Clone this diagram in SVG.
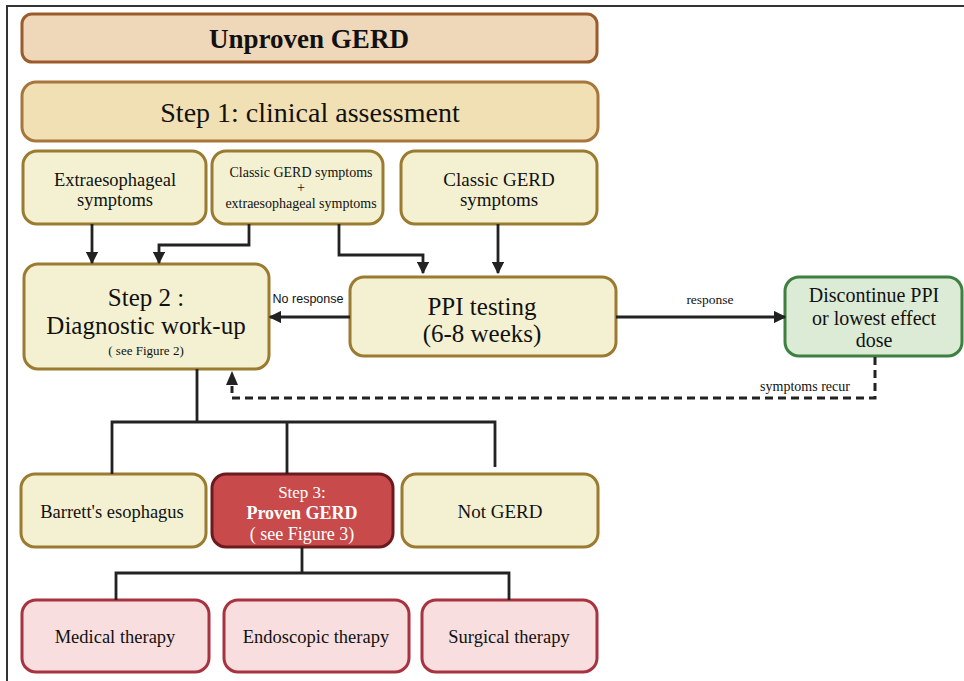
<svg xmlns="http://www.w3.org/2000/svg" width="964" height="681" viewBox="0 0 964 681">
<defs>
<style>
.t{font-family:"Liberation Serif","Times New Roman",serif;fill:#111;text-anchor:middle}
.s{font-family:"Liberation Sans",Arial,sans-serif;fill:#111;text-anchor:middle}
.box{stroke-width:3}
.cream{fill:#f4f1d2;stroke:#9a7b30}
.pink{fill:#f8dede;stroke:#a73340}
.ln{fill:none;stroke:#222;stroke-width:2.8}
.dash{fill:none;stroke:#222;stroke-width:3;stroke-dasharray:8 5}
</style>
<marker id="ah" viewBox="0 0 10 10" refX="9" refY="5" markerWidth="4.5" markerHeight="4.5" orient="auto" markerUnits="strokeWidth">
<path d="M0,0 L10,5 L0,10 z" fill="#222"/>
</marker>
</defs>
<rect width="964" height="681" fill="#fff"/>
<path d="M7,681 V6 H964" fill="none" stroke="#333" stroke-width="2"/>

<g id="unproven">
<rect class="box" x="22" y="14" width="575" height="48" rx="10" fill="#efd7b9" stroke="#9c5b2a"/>
<text class="t" x="309" y="48" font-size="27" font-weight="bold">Unproven GERD</text>
</g>
<g id="step1">
<rect class="box" x="22" y="82" width="576" height="59" rx="14" fill="#f1e0b3" stroke="#a8763a"/>
<text class="t" x="310" y="122" font-size="28">Step 1: clinical assessment</text>
</g>
<g id="extra">
<rect class="box cream" x="23" y="151" width="183" height="73" rx="14"/>
<text class="t" x="115" y="186" font-size="18.5">Extraesophageal</text>
<text class="t" x="115" y="206" font-size="18.5">symptoms</text>
</g>
<g id="classicextra">
<rect class="box cream" x="212" y="151" width="171" height="73" rx="14"/>
<text class="t" x="301" y="177" font-size="14">Classic GERD symptoms</text>
<text class="t" x="301" y="192" font-size="14">+</text>
<text class="t" x="301" y="208" font-size="14">extraesophageal symptoms</text>
</g>
<g id="classic">
<rect class="box cream" x="401" y="151" width="196" height="73" rx="14"/>
<text class="t" x="499" y="186" font-size="19">Classic GERD</text>
<text class="t" x="499" y="206" font-size="19">symptoms</text>
</g>
<g id="step2">
<rect class="box cream" x="24" y="264" width="245" height="105" rx="14"/>
<text class="t" x="146" y="306" font-size="25">Step 2 :</text>
<text class="t" x="146" y="334" font-size="25">Diagnostic work-up</text>
<text class="t" x="146" y="355" font-size="13">( see Figure 2)</text>
</g>
<g id="ppi">
<rect class="box cream" x="350" y="277" width="266" height="79" rx="14"/>
<text class="t" x="482" y="315" font-size="25">PPI testing</text>
<text class="t" x="482" y="342" font-size="25">(6-8 weeks)</text>
</g>
<g id="discontinue">
<rect class="box" x="785" y="277" width="177" height="79" rx="14" fill="#dcebd5" stroke="#3f7f3f"/>
<text class="t" x="874" y="302" font-size="20">Discontinue PPI</text>
<text class="t" x="874" y="325" font-size="20">or lowest effect</text>
<text class="t" x="874" y="347" font-size="20">dose</text>
</g>
<g id="barrett">
<rect class="box cream" x="21" y="474" width="185" height="73" rx="14"/>
<text class="t" x="112" y="518" font-size="18.5">Barrett's esophagus</text>
</g>
<g id="step3">
<rect class="box" x="212" y="474" width="181" height="73" rx="14" fill="#c84a4b" stroke="#6b1a1e"/>
<text class="t" x="302" y="498" font-size="17" style="fill:#fff">Step 3:</text>
<text class="t" x="302" y="519" font-size="18" font-weight="bold" style="fill:#fff">Proven GERD</text>
<text class="t" x="302" y="540" font-size="18" style="fill:#fff">( see Figure 3)</text>
</g>
<g id="notgerd">
<rect class="box cream" x="402" y="474" width="196" height="73" rx="14"/>
<text class="t" x="500" y="518" font-size="19">Not GERD</text>
</g>
<g id="medical">
<rect class="box pink" x="22" y="600" width="187" height="72" rx="14"/>
<text class="t" x="115" y="643" font-size="18.5">Medical therapy</text>
</g>
<g id="endoscopic">
<rect class="box pink" x="224" y="600" width="185" height="72" rx="14"/>
<text class="t" x="316" y="643" font-size="18.5">Endoscopic therapy</text>
</g>
<g id="surgical">
<rect class="box pink" x="422" y="600" width="175" height="72" rx="14"/>
<text class="t" x="509" y="643" font-size="18.5">Surgical therapy</text>
</g>

<g id="connectors">
<path class="ln" d="M92,224 V263" marker-end="url(#ah)"/>
<path class="ln" d="M249,224 V245 H159 V263" marker-end="url(#ah)"/>
<path class="ln" d="M339,224 V255 H423 V273" marker-end="url(#ah)"/>
<path class="ln" d="M498,224 V273" marker-end="url(#ah)"/>
<path class="ln" d="M350,317 H270" marker-end="url(#ah)"/>
<path class="ln" d="M616,317 H785" marker-end="url(#ah)"/>
<path class="dash" d="M875,357 V398 H232 V386"/>
<path d="M232,371 L238,385 L226,385 z" fill="#222"/>
<path class="ln" d="M197,369 V422 M112,474 V422 H495 V467 M287,422 V474"/>
<path class="ln" d="M302,547 V573 M116,600 V573 H509 V600"/>
<text class="s" x="308" y="303" font-size="12.5">No response</text>
<text class="t" x="710" y="304" font-size="13.5">response</text>
<text class="t" x="805" y="391" font-size="14">symptoms recur</text>
</g>
</svg>
